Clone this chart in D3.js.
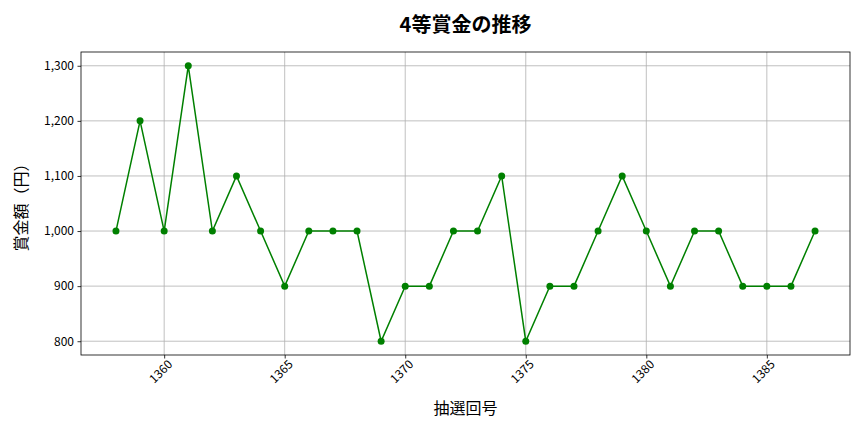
<!DOCTYPE html>
<html><head><meta charset="utf-8">
<script src="https://cdn.jsdelivr.net/npm/d3@7"></script>
<style>body{margin:0;background:#fff;} text{font-family:"Noto Sans CJK JP","Noto Sans",sans-serif;}</style>
</head><body><svg id="c" width="864" height="432"></svg>
<script>
const draws = [1358,1359,1360,1361,1362,1363,1364,1365,1366,1367,1368,1369,1370,1371,1372,1373,1374,1375,1376,1377,1378,1379,1380,1381,1382,1383,1384,1385,1386,1387];
const prizes = [1000,1200,1000,1300,1000,1100,1000,900,1000,1000,1000,800,900,900,1000,1000,1100,800,900,900,1000,1100,1000,900,1000,1000,900,900,900,1000];
const xTicks = [1360,1365,1370,1375,1380,1385];
const yTicks = [800,900,1000,1100,1200,1300];
const title = "4等賞金の推移";
const xLabel = "抽選回号";
const yLabel = "賞金額（円）";

const svg = d3.select("#c");
const L=81,R=850,T=52,B=355;
const x = d3.scaleLinear().domain([1356.55,1388.45]).range([L,R]);
const y = d3.scaleLinear().domain([775,1325]).range([B,T]);
const g = svg.append("g");
g.selectAll(".gx").data(xTicks).enter().append("line").attr("x1",d=>x(d)).attr("x2",d=>x(d)).attr("y1",T).attr("y2",B).attr("stroke","#b0b0b0").attr("stroke-width",0.8);
g.selectAll(".gy").data(yTicks).enter().append("line").attr("y1",d=>y(d)).attr("y2",d=>y(d)).attr("x1",L).attr("x2",R).attr("stroke","#b0b0b0").attr("stroke-width",0.8);
const xa = svg.append("g").attr("transform",`translate(0,${B})`).call(d3.axisBottom(x).tickValues(xTicks).tickSize(3.5).tickPadding(3).tickFormat(d3.format("d")));
xa.selectAll("text").attr("font-size",12).attr("fill","#000").attr("text-anchor","end").attr("dx","-0.1em").attr("dy","0.55em").attr("transform","rotate(-45)");
const ya = svg.append("g").attr("transform",`translate(${L},0)`).call(d3.axisLeft(y).tickValues(yTicks).tickSize(3.5).tickPadding(3.5).tickFormat(d3.format(",")));
ya.selectAll("text").attr("font-size",12).attr("fill","#000");
[xa,ya].forEach(a=>{a.select(".domain").remove();a.selectAll("line").attr("stroke","#000").attr("stroke-width",0.8);});
svg.append("rect").attr("x",L).attr("y",T).attr("width",R-L).attr("height",B-T).attr("fill","none").attr("stroke","#000").attr("stroke-width",0.8);
const data = draws.map((d,i)=>({d,v:prizes[i]}));
svg.append("path").datum(data).attr("fill","none").attr("stroke","green").attr("stroke-width",1.5).attr("d",d3.line().x(p=>x(p.d)).y(p=>y(p.v)));
svg.selectAll(".pt").data(data).enter().append("circle").attr("cx",p=>x(p.d)).attr("cy",p=>y(p.v)).attr("r",3.5).attr("fill","green");
svg.append("text").attr("x",(L+R)/2).attr("y",32).attr("text-anchor","middle").attr("font-size",20).attr("font-weight","bold").text(title);
svg.append("text").attr("x",(L+R)/2).attr("y",414).attr("text-anchor","middle").attr("font-size",16).text(xLabel);
svg.append("text").attr("transform",`translate(27,${(T+B)/2}) rotate(-90)`).attr("text-anchor","middle").attr("font-size",16).text(yLabel);
</script></body></html>
